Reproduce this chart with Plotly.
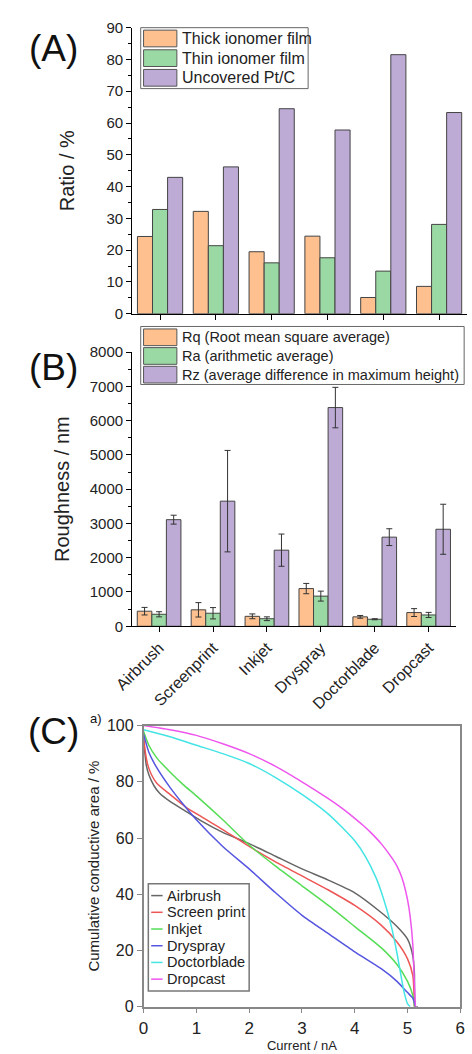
import plotly.graph_objects as go

# ---------------- data ----------------
categories = ["Airbrush", "Screenprint", "Inkjet", "Dryspray", "Doctorblade", "Dropcast"]

# Panel A (Ratio / %)
namesA = ["Thick ionomer film", "Thin ionomer film", "Uncovered Pt/C"]
thick_film = [24.3, 32.2, 19.5, 24.4, 5.1, 8.6]
thin_film = [32.8, 21.4, 16.0, 17.6, 13.4, 28.1]
uncovered = [42.9, 46.2, 64.5, 57.8, 81.5, 63.3]

# Panel B (Roughness / nm)
namesB = ["Rq (Root mean square average)", "Ra (arithmetic average)",
          "Rz (average difference in maximum height)"]
rq = [440, 480, 290, 1100, 275, 400]
rq_err = [110, 210, 70, 150, 40, 115]
ra = [350, 380, 220, 880, 205, 330]
ra_err = [75, 165, 55, 145, 15, 75]
rz = [3110, 3650, 2220, 6380, 2600, 2830]
rz_err = [130, 1480, 470, 590, 245, 730]

# Panel C (cumulative conductive area vs current)
namesC = ["Airbrush", "Screen print", "Inkjet", "Dryspray", "Doctorblade", "Dropcast"]
airbrush_x = [0, 0.02, 0.05, 0.1, 0.2, 0.3, 0.5, 0.8, 1.1, 1.5, 2, 2.5, 3, 3.5, 4, 4.5, 4.8, 5.0, 5.1, 5.13, 5.15, 5.2]
airbrush_y = [95, 91, 86, 82.5, 78.5, 76, 73, 69.5, 66, 62, 58, 53.5, 49, 45, 40.5, 33.5, 28.5, 24, 18, 12, 0, 0]
screen_x = [0, 0.03, 0.08, 0.15, 0.25, 0.5, 0.8, 1.1, 1.5, 2, 2.5, 3, 3.5, 4, 4.5, 4.8, 5.0, 5.1, 5.13]
screen_y = [96, 91, 86, 82.5, 79.5, 75.5, 71, 67.5, 63, 57, 51.5, 46.5, 41.5, 36, 29, 23, 17, 11, 0]
inkjet_x = [0, 0.1, 0.25, 0.5, 0.75, 1, 1.5, 2, 2.5, 3, 3.5, 4, 4.5, 4.8, 5.0, 5.1, 5.13]
inkjet_y = [98, 93, 88.5, 83.5, 79, 75, 66.5, 57.5, 50, 43, 36, 28.5, 21, 15, 9, 4, 0]
dryspray_x = [0, 0.1, 0.25, 0.5, 0.75, 1, 1.5, 2, 2.5, 3, 3.5, 4, 4.5, 4.8, 5.0, 5.1, 5.15]
dryspray_y = [97, 90.5, 85, 78, 72, 66.5, 57, 49, 40.5, 32.5, 26, 19.5, 13.5, 9, 5, 3, 0]
doctor_x = [0, 0.5, 1, 1.5, 2, 2.5, 3, 3.5, 3.75, 4.0, 4.2, 4.4, 4.5, 4.6, 4.7, 4.8, 4.9, 4.95, 5.0, 5.05]
doctor_y = [98.5, 96, 93, 90, 86.5, 81.5, 75.5, 68.5, 64, 59, 53.5, 46, 41, 35, 28, 19, 8.5, 4, 1, 0]
dropcast_x = [0, 0.5, 1, 1.5, 2, 2.5, 3, 3.5, 3.75, 4, 4.15, 4.3, 4.5, 4.7, 4.8, 4.9, 5.0, 5.05, 5.1, 5.13, 5.15]
dropcast_y = [100, 98.5, 96.5, 93.5, 90, 85.5, 80, 74, 70.7, 67, 64.6, 62, 58, 53, 50, 45.5, 38, 32, 22, 8, 0]

# ---------------- style ----------------
W, H = 472, 1054
bar_colors = ["#FDC08E", "#9AD9A4", "#BDABD6"]
line_colors = ["#666666", "#EE5555", "#55DD55", "#5555E0", "#44E4E4", "#EE55EE"]
FONT = "Liberation Sans, Arial, sans-serif"
TXT = "#222222"


def px(x):
    return x / W


def py(y):
    return 1 - y / H


fig = go.Figure()

# Panel A bars
for name, vals, col in zip(namesA, [thick_film, thin_film, uncovered], bar_colors):
    fig.add_trace(go.Bar(x=categories, y=vals, name=name, marker_color=col,
                         marker_line=dict(color="#444444", width=1),
                         xaxis="x", yaxis="y", showlegend=False))

# Panel B bars
for name, vals, errs, col in zip(namesB, [rq, ra, rz], [rq_err, ra_err, rz_err], bar_colors):
    fig.add_trace(go.Bar(x=categories, y=vals, name=name, marker_color=col,
                         marker_line=dict(color="#444444", width=1),
                         error_y=dict(type="data", array=errs, color="#333333",
                                      thickness=1, width=3),
                         xaxis="x2", yaxis="y2", showlegend=False))

# Panel C lines
curves = [(airbrush_x, airbrush_y), (screen_x, screen_y), (inkjet_x, inkjet_y),
          (dryspray_x, dryspray_y), (doctor_x, doctor_y), (dropcast_x, dropcast_y)]
for name, (cx, cy), col in zip(namesC, curves, line_colors):
    fig.add_trace(go.Scatter(x=cx, y=cy, mode="lines", name=name,
                             line=dict(color=col, width=1.5, shape="spline", smoothing=0.6),
                             xaxis="x3", yaxis="y3", showlegend=False))

shapes = []
annotations = []


# Custom legends for A and B (large swatches as in the original)
def bar_legend(box, names, row0, pitch, fsize):
    x0, y0, x1, y1 = box
    shapes.append(dict(type="rect", xref="paper", yref="paper", x0=px(x0), x1=px(x1),
                       y0=py(y1), y1=py(y0), line=dict(color="#666666", width=1),
                       fillcolor="white", layer="above"))
    for i, (nm, col) in enumerate(zip(names, bar_colors)):
        cyy = row0 + pitch * i
        shapes.append(dict(type="rect", xref="paper", yref="paper", x0=px(132), x1=px(167),
                           y0=py(cyy + 8.5), y1=py(cyy - 8.5), fillcolor=col,
                           line=dict(color="#555555", width=1), layer="above"))
        annotations.append(dict(text=nm, xref="paper", yref="paper", x=px(170), y=py(cyy),
                                xanchor="left", yanchor="middle", showarrow=False,
                                font=dict(size=fsize, color=TXT, family=FONT)))


bar_legend((129, 19, 305, 81), namesA, 30, 20, 16)
bar_legend((129, 323, 469, 382), namesB, 334, 19, 14.5)

# Legend C
shapes.append(dict(type="rect", xref="paper", yref="paper", x0=px(137), x1=px(243),
                   y0=py(999), y1=py(890), line=dict(color="#777777", width=1.5),
                   fillcolor="white", layer="above"))
for i, (nm, col) in enumerate(zip(namesC, line_colors)):
    cyy = 902 + 17 * i
    shapes.append(dict(type="line", xref="paper", yref="paper", x0=px(140), x1=px(152),
                       y0=py(cyy), y1=py(cyy), line=dict(color=col, width=1.5), layer="above"))
    annotations.append(dict(text=nm, xref="paper", yref="paper", x=px(155), y=py(cyy),
                            xanchor="left", yanchor="middle", showarrow=False,
                            font=dict(size=14.5, color=TXT, family=FONT)))

# Panel letters
for lab, cyy in [("(A)", 40), ("(B)", 365), ("(C)", 735)]:
    annotations.append(dict(text=lab, xref="paper", yref="paper", x=px(37), y=py(cyy),
                            xanchor="center", yanchor="middle", showarrow=False,
                            font=dict(size=37, color="#111111", family=FONT)))
annotations.append(dict(text="a)", xref="paper", yref="paper", x=px(82), y=py(722),
                        xanchor="center", yanchor="middle", showarrow=False,
                        font=dict(size=13, color="#111111", family=FONT)))

bar_axis = dict(showline=True, linecolor="black", linewidth=1, ticks="outside",
                ticklen=5, tickcolor="black", showgrid=False, zeroline=False)

fig.update_layout(
    width=W, height=H, margin=dict(l=0, r=0, t=0, b=0),
    paper_bgcolor="white", plot_bgcolor="white",
    font=dict(family=FONT, color=TXT),
    barmode="group", bargap=0.19, bargroupgap=0,
    xaxis=dict(domain=[px(120), 1], anchor="y", type="category",
               range=[-0.5, 5.5], showticklabels=False, **bar_axis),
    yaxis=dict(domain=[py(310), py(19)], anchor="x", range=[0, 90], dtick=10,
               tickfont=dict(size=15), minor=dict(ticks="outside", ticklen=3, dtick=5,
                                                   tickcolor="black"),
               title=dict(text="Ratio / %", font=dict(size=20), standoff=26), **bar_axis),
    xaxis2=dict(domain=[px(120), px(460)], anchor="y2", type="category",
                range=[-0.5, 5.5], tickangle=-45, tickfont=dict(size=16), **bar_axis),
    yaxis2=dict(domain=[py(628), py(349)], anchor="x2", range=[0, 8000], dtick=1000,
                tickfont=dict(size=15), minor=dict(ticks="outside", ticklen=3, dtick=500,
                                                    tickcolor="black"),
                title=dict(text="Roughness / nm", font=dict(size=20), standoff=14), **bar_axis),
    xaxis3=dict(domain=[px(132), px(465)], anchor="y3", range=[0, 6], dtick=1,
                showline=True, mirror=True, linecolor="#888888", linewidth=1.5,
                ticks="outside", ticklen=5, tickcolor="#888888", showgrid=False,
                zeroline=False, tickfont=dict(size=17),
                title=dict(text="Current / nA", standoff=4,
                           font=dict(size=13, family="Liberation Sans Narrow, Arial Narrow, sans-serif"))),
    yaxis3=dict(domain=[py(1015), py(729)], anchor="x3", range=[0, 100], dtick=20,
                showline=True, mirror=True, linecolor="#888888", linewidth=1.5,
                ticks="outside", ticklen=5, tickcolor="#888888", showgrid=False,
                zeroline=False, tickfont=dict(size=16),
                title=dict(text="Cumulative conductive area / %", font=dict(size=15), standoff=4)),
    shapes=shapes, annotations=annotations,
)

fig.write_html("out.html")
